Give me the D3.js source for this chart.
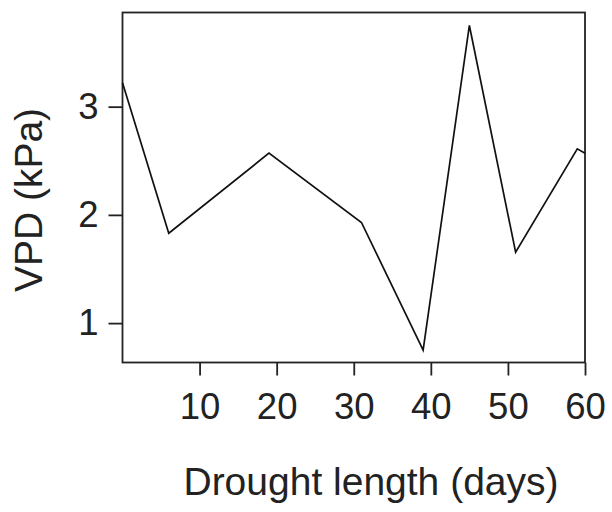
<!DOCTYPE html>
<html>
<head>
<meta charset="utf-8">
<script src="https://cdn.jsdelivr.net/npm/d3@7"></script>
<style>
html,body{margin:0;padding:0;background:#fff;}
svg{display:block;}
text{font-family:"Liberation Sans",Arial,Helvetica,sans-serif;fill:#222;}
</style>
</head>
<body>
<svg id="chart" width="612" height="512"></svg>
<script>
const days = [0, 6, 19, 31, 39, 45, 51, 59, 60];
const vpd = [3.22, 1.83, 2.57, 1.93, 0.75, 3.75, 1.655, 2.61, 2.57];
const xTicks = [10, 20, 30, 40, 50, 60];
const yTicks = [1, 2, 3];
const xLabel = "Drought length (days)";
const yLabel = "VPD (kPa)";

const svg = d3.select("#chart");
const mLeft = 122.5, mRight = 585, mTop = 12.5, mBottom = 362.5;

const x = d3.scaleLinear().domain([0, 60]).range([mLeft, mRight]);
const y = d3.scaleLinear().domain([0.636, 3.87]).range([mBottom, mTop]);

// frame
svg.append("rect")
  .attr("x", mLeft).attr("y", mTop)
  .attr("width", mRight - mLeft).attr("height", mBottom - mTop)
  .attr("fill", "none").attr("stroke", "#222").attr("stroke-width", 1.8);

// x axis
const xAxis = svg.append("g")
  .attr("transform", `translate(0,${mBottom})`)
  .call(d3.axisBottom(x).tickValues(xTicks).tickSize(13).tickPadding(18).tickFormat(d3.format("d")));
xAxis.select(".domain").remove();
xAxis.selectAll("line").attr("stroke", "#222").attr("stroke-width", 1.8);
xAxis.selectAll("text").attr("font-size", 36.5).attr("fill", "#222")
  .attr("font-family", "'Liberation Sans',Arial,sans-serif");

// y axis
const yAxis = svg.append("g")
  .attr("transform", `translate(${mLeft},0)`)
  .call(d3.axisLeft(y).tickValues(yTicks).tickSize(14).tickPadding(10).tickFormat(d3.format("d")));
yAxis.select(".domain").remove();
yAxis.selectAll("line").attr("stroke", "#222").attr("stroke-width", 1.8);
yAxis.selectAll("text").attr("font-size", 36.5).attr("fill", "#222")
  .attr("font-family", "'Liberation Sans',Arial,sans-serif");

// data line
const pts = days.map((d, i) => [d, vpd[i]]);
svg.append("path")
  .datum(pts)
  .attr("fill", "none")
  .attr("stroke", "#111")
  .attr("stroke-width", 1.7)
  .attr("stroke-linejoin", "miter")
  .attr("d", d3.line().x(d => x(d[0])).y(d => y(d[1])));

// labels
svg.append("text")
  .attr("x", 371).attr("y", 495)
  .attr("text-anchor", "middle")
  .attr("font-size", 39)
  .text(xLabel);

svg.append("text")
  .attr("transform", "translate(42,200) rotate(-90)")
  .attr("text-anchor", "middle")
  .attr("font-size", 39)
  .text(yLabel);
</script>
</body>
</html>
